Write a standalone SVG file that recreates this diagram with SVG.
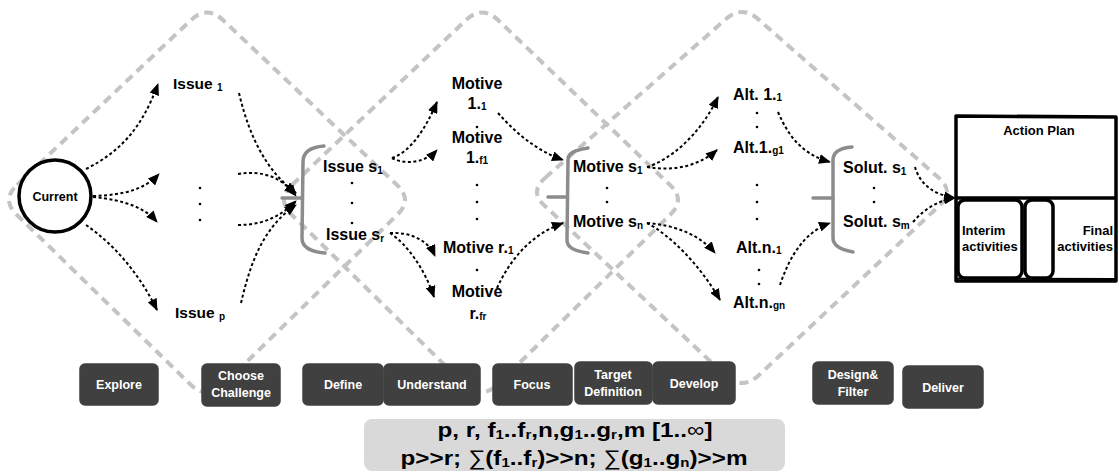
<svg xmlns="http://www.w3.org/2000/svg" width="1119" height="473" viewBox="0 0 1119 473">
<defs>
<marker id="ah" viewBox="0 0 12 10" refX="11" refY="5" markerWidth="12" markerHeight="10" markerUnits="userSpaceOnUse" orient="auto"><path d="M0,0 L12,5 L0,10 z" fill="#000"/></marker>
</defs>
<style>
.dia{fill:none;stroke:#c4c4c4;stroke-width:4;stroke-dasharray:9 6}
.con{fill:none;stroke:#000;stroke-width:2;stroke-dasharray:3 2.5;marker-end:url(#ah)}
.lbl{font-family:"Liberation Sans",Arial,sans-serif;font-weight:bold;font-size:16px;fill:#000}
.mid{text-anchor:middle}
.sub{font-size:10px}
.dot{fill:#000}
.br{fill:none;stroke:#8c8c8c;stroke-width:3.5;stroke-linecap:round;stroke-linejoin:round}
.btn{fill:#404040;stroke:#404040;stroke-width:1.5;stroke-linejoin:round}
.bt{font-family:"Liberation Sans",Arial,sans-serif;font-weight:bold;font-size:12.5px;fill:#fff;text-anchor:middle}
.box{fill:none;stroke:#000;stroke-width:3.5;stroke-linejoin:round}
.bx{font-family:"Liberation Sans",Arial,sans-serif;font-weight:bold;font-size:13px;fill:#000}
.fm{font-family:"Liberation Sans",Arial,sans-serif;font-weight:bold;font-size:21px;fill:#000;text-anchor:middle}
</style>
<rect width="1119" height="473" fill="#fff"/>
<g id="phases">
<path class="dia" d="M17,185 L191,20 Q207,5 223,20 L397,185 Q413,200 397,215 L223,385 Q207,400 191,385 L17,215 Q1,200 17,185 Z"/>
<path class="dia" d="M292,185 L466,20 Q482,5 498,20 L670,185 Q686,200 670,215 L497,385 Q481,400 465,385 L292,215 Q276,200 292,185 Z"/>
<path class="dia" d="M545,178 L726,19 Q742,5 758,19 L939,178 Q955,192 939,206 L758,376 Q742,390 726,376 L545,206 Q529,192 545,178 Z"/>
</g>
<g id="connectors">
<path class="con" d="M86,169 C120,152 142,128 158,84"/>
<path class="con" d="M93,196 C125,195 145,189 159,174"/>
<path class="con" d="M93,197 C125,200 145,208 157,222"/>
<path class="con" d="M86,225 C115,245 140,275 157,310"/>
<path class="con" d="M239,93 C250,140 268,172 296,193"/>
<path class="con" d="M238,174 C265,170 282,178 296,196"/>
<path class="con" d="M238,225 C265,225 282,215 296,201"/>
<path class="con" d="M241,303 C250,265 262,228 296,205"/>
<path class="con" d="M392,158 C410,152 425,130 437,102"/>
<path class="con" d="M392,158 C405,165 425,163 437,150"/>
<path class="con" d="M390,233 C410,232 428,240 435,256"/>
<path class="con" d="M390,233 C408,245 425,270 434,297"/>
<path class="con" d="M498,113 C515,132 535,150 563,160"/>
<path class="con" d="M497,288 C510,260 530,235 563,223"/>
<path class="con" d="M647,167 C670,160 700,135 718,97"/>
<path class="con" d="M647,167 C675,172 700,165 717,150"/>
<path class="con" d="M647,223 C675,225 700,235 715,253"/>
<path class="con" d="M647,223 C670,235 700,265 720,300"/>
<path class="con" d="M778,112 C790,140 805,155 830,162"/>
<path class="con" d="M780,285 C790,255 805,232 830,223"/>
<path class="con" d="M915,167 C920,185 935,195 955,198"/>
<path class="con" d="M913,222 C925,208 940,200 955,198"/>
</g>
<g id="current">
<circle cx="55" cy="196" r="36" fill="#fff" stroke="#000" stroke-width="3.5"/>
<text class="lbl mid" x="55" y="201" style="font-size:12.5px">Current</text>
</g>
<g id="issues">
<text class="lbl" x="173" y="89" style="font-size:15.5px">Issue <tspan class="sub" dy="2">1</tspan></text>
<circle class="dot" cx="200" cy="188" r="1.3"/><circle class="dot" cx="200" cy="204" r="1.3"/><circle class="dot" cx="200" cy="220" r="1.3"/>
<text class="lbl" x="175" y="318" style="font-size:15.5px">Issue <tspan class="sub" dy="2">p</tspan></text>
</g>
<g id="issue-select">
<path class="br" d="M324,146 C310,147 303,152 303,162 L302,238 C302,248 312,252 325,253"/>
<path class="br" d="M282,198 L302,198"/>
<text class="lbl" x="323" y="172">Issue s<tspan class="sub" dy="2">1</tspan></text>
<circle class="dot" cx="352" cy="183" r="1.3"/><circle class="dot" cx="352" cy="203" r="1.3"/><circle class="dot" cx="352" cy="223" r="1.3"/>
<text class="lbl" x="326" y="240">Issue s<tspan class="sub" dy="2">r</tspan></text>
</g>
<g id="motives">
<text class="lbl mid" x="477" y="89">Motive</text>
<text class="lbl mid" x="477" y="109">1.<tspan class="sub" dy="1">1</tspan></text>
<circle class="dot" cx="477" cy="127" r="1.3"/>
<text class="lbl mid" x="477" y="143">Motive</text>
<text class="lbl mid" x="477" y="163">1.<tspan class="sub" dy="1">f1</tspan></text>
<circle class="dot" cx="477" cy="185" r="1.3"/><circle class="dot" cx="477" cy="202" r="1.3"/><circle class="dot" cx="477" cy="219" r="1.3"/>
<text class="lbl" x="443" y="253">Motive r.<tspan class="sub" dy="1">1</tspan></text>
<circle class="dot" cx="477" cy="270" r="1.3"/>
<text class="lbl mid" x="477" y="297">Motive</text>
<text class="lbl mid" x="478" y="319">r.<tspan class="sub" dy="1">fr</tspan></text>
</g>
<g id="motive-select">
<path class="br" d="M588,148 C575,150 568,153 568,160 L567,240 C567,248 575,251 588,253"/>
<path class="br" d="M548,197 L567,197"/>
<text class="lbl" x="573" y="172">Motive s<tspan class="sub" dy="2">1</tspan></text>
<circle class="dot" cx="607" cy="188" r="1.3"/><circle class="dot" cx="607" cy="202" r="1.3"/>
<text class="lbl" x="573" y="227">Motive s<tspan class="sub" dy="2">n</tspan></text>
</g>
<g id="alternatives">
<text class="lbl" x="733" y="100">Alt. 1.<tspan class="sub" dy="1">1</tspan></text>
<circle class="dot" cx="757" cy="113" r="1.3"/><circle class="dot" cx="757" cy="127" r="1.3"/>
<text class="lbl" x="733" y="153">Alt.1.<tspan class="sub" dy="1">g1</tspan></text>
<circle class="dot" cx="757" cy="185" r="1.3"/><circle class="dot" cx="757" cy="202" r="1.3"/><circle class="dot" cx="757" cy="219" r="1.3"/>
<text class="lbl" x="736" y="253">Alt.n.<tspan class="sub" dy="1">1</tspan></text>
<circle class="dot" cx="759" cy="270" r="1.3"/><circle class="dot" cx="759" cy="284" r="1.3"/>
<text class="lbl" x="733" y="308">Alt.n.<tspan class="sub" dy="1">gn</tspan></text>
</g>
<g id="solutions">
<path class="br" d="M852,147 C840,148 833,152 833,160 L833,238 C833,246 842,250 853,252"/>
<path class="br" d="M813,198 L833,198"/>
<text class="lbl" x="843" y="173">Solut. s<tspan class="sub" dy="2">1</tspan></text>
<circle class="dot" cx="874" cy="188" r="1.3"/><circle class="dot" cx="874" cy="202" r="1.3"/>
<text class="lbl" x="843" y="227">Solut. s<tspan class="sub" dy="2">m</tspan></text>
</g>
<g id="action-plan">
<path class="box" d="M956,116 L1116,117 L1116,281 L956,281 Z"/>
<path class="box" d="M956,198 L1116,198"/>
<path d="M957,278.5 L1116,279" stroke="#000" stroke-width="2"/>
<rect class="box" x="958" y="200" width="64" height="78" rx="7"/>
<rect class="box" x="1025" y="200" width="28" height="78" rx="7"/>
<text class="bx" x="1039" y="135" text-anchor="middle">Action Plan</text>
<text class="bx" x="962" y="235">Interim</text>
<text class="bx" x="962" y="251">activities</text>
<text class="bx" x="1113" y="235" text-anchor="end">Final</text>
<text class="bx" x="1113" y="251" text-anchor="end">activities</text>
</g>
<g id="steps">
<g id="step-explore"><rect class="btn" x="80" y="364" width="78" height="41" rx="5"/><text class="bt" x="119" y="389">Explore</text></g>
<g id="step-choose"><rect class="btn" x="202" y="364" width="78" height="42" rx="5"/><text class="bt" x="241" y="380">Choose</text><text class="bt" x="241" y="397">Challenge</text></g>
<g id="step-define"><rect class="btn" x="303" y="364" width="80" height="41" rx="5"/><text class="bt" x="343" y="389">Define</text></g>
<g id="step-understand"><rect class="btn" x="384" y="364" width="96" height="41" rx="5"/><text class="bt" x="432" y="389">Understand</text></g>
<g id="step-focus"><rect class="btn" x="493" y="364" width="79" height="41" rx="5"/><text class="bt" x="532" y="389">Focus</text></g>
<g id="step-target"><rect class="btn" x="575" y="362" width="77" height="42" rx="5"/><text class="bt" x="613" y="379">Target</text><text class="bt" x="613" y="396">Definition</text></g>
<g id="step-develop"><rect class="btn" x="653" y="362" width="82" height="42" rx="5"/><text class="bt" x="694" y="388">Develop</text></g>
<g id="step-design"><rect class="btn" x="813" y="362" width="80" height="42" rx="5"/><text class="bt" x="853" y="379">Design&amp;</text><text class="bt" x="853" y="396">Filter</text></g>
<g id="step-deliver"><rect class="btn" x="903" y="366" width="80" height="42" rx="5"/><text class="bt" x="943" y="392">Deliver</text></g>
</g>
<g id="constraints">
<rect x="364" y="419" width="421" height="52" rx="8" fill="#d9d9d9"/>
<text class="fm" x="575" y="437" textLength="275" lengthAdjust="spacingAndGlyphs">p, r, f<tspan font-size="13" dy="2">1</tspan><tspan dy="-2">..f</tspan><tspan font-size="13" dy="2">r</tspan><tspan dy="-2">,n,g</tspan><tspan font-size="13" dy="2">1</tspan><tspan dy="-2">..g</tspan><tspan font-size="13" dy="2">r</tspan><tspan dy="-2">,m [1..</tspan><tspan font-weight="normal">∞</tspan>]</text>
<text class="fm" x="574" y="465" textLength="347" lengthAdjust="spacingAndGlyphs">p&gt;&gt;r; <tspan font-weight="normal">∑</tspan>(f<tspan font-size="13" dy="2">1</tspan><tspan dy="-2">..f</tspan><tspan font-size="13" dy="2">r</tspan><tspan dy="-2">)&gt;&gt;n; </tspan><tspan font-weight="normal">∑</tspan>(g<tspan font-size="13" dy="2">1</tspan><tspan dy="-2">..g</tspan><tspan font-size="13" dy="2">n</tspan><tspan dy="-2">)&gt;&gt;m</tspan></text>
</g>
</svg>
